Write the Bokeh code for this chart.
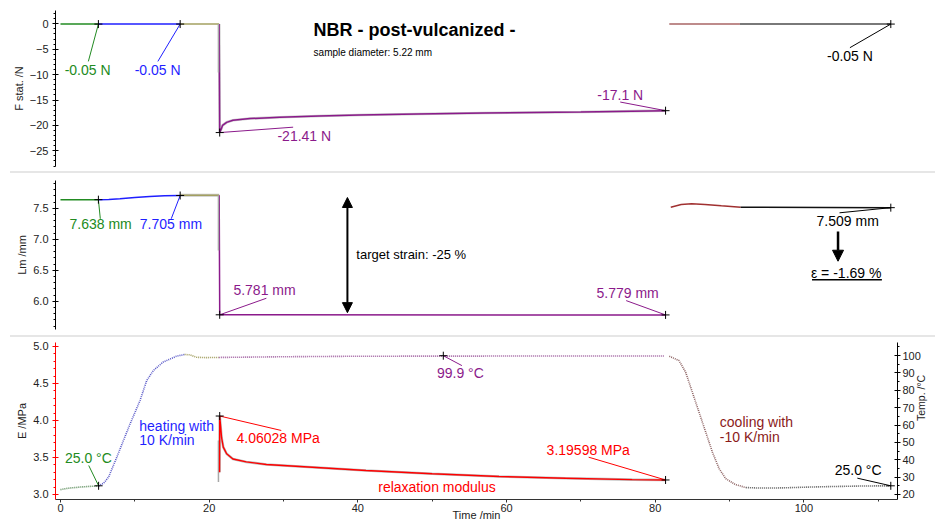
import math
from bokeh.plotting import figure
from bokeh.models import (Range1d, LinearAxis, Label, Arrow, NormalHead, Div,
                          SingleIntervalTicker, PrintfTickFormatter)
from bokeh.layouts import column
from bokeh.embed import file_html
from bokeh.resources import INLINE

FONT = "Liberation Sans"

# ------------------------------------------------------------------ data
# time axis: minutes (shared by all three panels)

# Panel 1 : static force  F stat. /N
f_green_t = [0.0, 5.1]
f_green_v = [-0.05, -0.05]
f_blue_t = [5.1, 16.1]
f_blue_v = [-0.05, -0.05]
f_olive_t = [16.1, 21.35]
f_olive_v = [-0.05, -0.05]
f_step_t = [21.25, 21.25]
f_step_v = [-0.05, -9.6]
f_relax_t = [21.35, 21.42, 21.6, 21.8, 22.35, 23.2, 25.5, 29.5, 34.8, 40.2, 48.0, 57.0, 70.0, 81.4]
f_relax_v = [-0.05, -21.41, -20.8, -20.0, -19.4, -19.0, -18.65, -18.4, -18.15, -17.95, -17.75, -17.55, -17.35, -17.1]
f_cool_t = [81.9, 91.4]
f_cool_v = [-0.05, -0.05]
f_end_t = [91.4, 111.7]
f_end_v = [-0.05, -0.05]
f_mark_t = [5.1, 16.1, 21.42, 81.4, 111.7]
f_mark_v = [-0.05, -0.05, -21.41, -17.1, -0.05]
f_mark_text = ["-0.05 N", "-0.05 N", "-21.41 N", "-17.1 N", "-0.05 N"]

# Panel 2 : sample length  Lm /mm
l_green_t = [0.0, 5.1]
l_green_v = [7.638, 7.638]
l_blue_t = [5.1, 6.5, 8.0, 10.0, 12.0, 14.0, 16.1]
l_blue_v = [7.638, 7.641, 7.652, 7.672, 7.690, 7.700, 7.705]
l_olive_t = [16.1, 21.35]
l_olive_v = [7.708, 7.710]
l_step_t = [21.25, 21.25]
l_step_v = [7.710, 6.82]
l_relax_t = [21.35, 21.42, 81.4]
l_relax_v = [7.710, 5.781, 5.779]
l_cool_t = [82.1, 83.5, 84.9, 86.7, 88.9, 91.5]
l_cool_v = [7.516, 7.560, 7.571, 7.560, 7.539, 7.516]
l_end_t = [91.5, 111.7]
l_end_v = [7.516, 7.509]
l_mark_t = [5.1, 16.1, 21.42, 81.4, 111.7]
l_mark_v = [7.638, 7.705, 5.781, 5.779, 7.509]
l_mark_text = ["7.638 mm", "7.705 mm", "5.781 mm", "5.779 mm", "7.509 mm"]

# Panel 3 : temperature  Temp. /°C (right axis)
t_green_t = [0.0, 1.0, 2.7, 4.0, 5.13]
t_green_v = [22.8, 23.6, 24.3, 24.7, 24.9]
t_blue_t = [5.13, 5.8, 6.47, 7.59, 8.47, 9.37, 10.7, 11.6, 12.5, 13.8, 15.6, 16.7]
t_blue_v = [24.9, 26.5, 30.0, 41.6, 51.1, 60.7, 74.1, 85.6, 91.4, 96.2, 99.6, 100.6]
t_olive_t = [16.7, 17.4, 18.3, 19.5, 21.3]
t_olive_v = [100.6, 100.4, 99.0, 98.8, 98.9]
t_relax_t = [21.3, 30.0, 40.0, 60.0, 81.2]
t_relax_v = [98.9, 99.3, 99.6, 99.7, 99.7]
t_cool_t = [81.9, 83.2, 84.1, 85.0, 85.9, 86.8, 87.7, 88.6, 89.5, 90.8, 92.2]
t_cool_v = [99.6, 97.1, 90.4, 78.9, 67.4, 55.9, 44.4, 34.9, 29.1, 25.7, 24.0]
t_end_t = [92.2, 94.0, 97.1, 100.0, 104.0, 108.0, 111.7]
t_end_v = [24.0, 23.7, 23.8, 24.2, 24.6, 24.9, 25.0]
t_mark_t = [5.13, 51.5, 111.7]
t_mark_v = [25.0, 99.9, 25.0]
t_mark_text = ["25.0 °C", "99.9 °C", "25.0 °C"]

# Panel 3 : modulus  E /MPa (left axis)
e_step_t = [21.25, 21.25]
e_step_v = [3.17, 3.73]
e_relax_t = [21.4, 21.42, 21.67, 21.9, 22.35, 23.2, 25.0, 27.7, 32.2, 41.1, 50.0, 59.0, 67.9, 76.9, 81.4]
e_relax_v = [3.30, 4.06028, 3.77, 3.64, 3.55, 3.48, 3.44, 3.405, 3.378, 3.324, 3.28, 3.243, 3.22, 3.20, 3.19598]
e_mark_t = [21.42, 81.4]
e_mark_v = [4.06028, 3.19598]
e_mark_text = ["4.06028 MPa", "3.19598 MPa"]

x_ticks_step = 20

# ------------------------------------------------------------------ style
C_GREEN = "#228b22"
C_BLUE = "#1f1fff"
C_OLIVE = "#a3a060"
C_PURPLE = "#8b1a8b"
C_DARK = "#4d4d4d"
C_RED = "#ff0000"
C_DRED = "#8b1a1a"
C_TXT = "#222222"

W = 935
x_range = Range1d(-0.67, 112.6)


def style_axis(ax, color="black"):
    ax.axis_line_color = color
    ax.major_tick_line_color = color
    ax.minor_tick_line_color = color
    ax.major_tick_in = 3
    ax.major_tick_out = 3
    ax.minor_tick_in = 0
    ax.minor_tick_out = 2
    ax.major_label_text_font = FONT
    ax.major_label_text_font_size = "11px"
    ax.major_label_text_color = C_TXT
    ax.axis_label_text_font = FONT
    ax.axis_label_text_font_size = "11px"
    ax.axis_label_text_font_style = "normal"
    ax.axis_label_text_color = C_TXT
    ax.major_label_standoff = 4
    ax.axis_label_standoff = 2


def make_fig(height, y_range, top, bottom, with_x=False):
    p = figure(width=W, height=height, x_range=x_range, y_range=y_range,
               output_backend="svg", toolbar_location=None,
               x_axis_location="below" if with_x else None,
               min_border_left=55, min_border_right=35,
               min_border_top=top, min_border_bottom=bottom)
    p.outline_line_color = None
    p.xgrid.visible = False
    p.ygrid.visible = False
    p.background_fill_color = "white"
    p.border_fill_color = "white"
    return p


def label(p, x, y, text, color, size="14px", align="center", yname="default", style="normal"):
    p.add_layout(Label(x=x, y=y, text=text, text_color=color, text_font=FONT,
                       text_font_size=size, text_align=align, text_baseline="middle",
                       text_font_style=style, y_range_name=yname))


def leaders(p, x0, y0, x1, y1, colors, yname="default"):
    p.segment(x0=x0, y0=y0, x1=x1, y1=y1, line_color=colors, line_width=1,
              y_range_name=yname)


# ------------------------------------------------------------------ panel 1
p1 = make_fig(171, Range1d(-28.09, 2.62), 10, 5)
p1.yaxis.axis_label = "F stat. /N"
p1.yaxis.ticker = SingleIntervalTicker(interval=5, num_minor_ticks=5)
style_axis(p1.yaxis[0])

p1.line(f_relax_t, f_relax_v, line_color="#c8c8c8", line_width=2.6)
for t, v, c in [(f_green_t, f_green_v, C_GREEN), (f_blue_t, f_blue_v, C_BLUE),
                (f_olive_t, f_olive_v, C_OLIVE), (f_relax_t, f_relax_v, C_PURPLE),
                (f_cool_t, f_cool_v, "#a86464"), (f_end_t, f_end_v, C_DARK)]:
    p1.line(t, v, line_color=c, line_width=1.5)
p1.line(f_step_t, f_step_v, line_color="#a8a8a8", line_width=1.5)

f_note_x = [3.65, 13.07, 32.8, 75.3, 106.2]
f_note_y = [-9.0, -9.0, -22.0, -14.1, -6.24]
f_lead_x = [3.75, 13.1, 31.3, 75.3, 106.2]
f_lead_y = [-7.4, -7.4, -20.35, -15.4, -4.7]
f_note_c = [C_GREEN, C_BLUE, C_PURPLE, C_PURPLE, "black"]
leaders(p1, f_lead_x, f_lead_y, f_mark_t, f_mark_v, f_note_c)
for x, y, s, c in zip(f_note_x, f_note_y, f_mark_text, f_note_c):
    label(p1, x, y, s, c)
p1.scatter(f_mark_t, f_mark_v, marker="cross", size=8, line_color="black", line_width=1)

label(p1, 34.05, -1.26, "NBR - post-vulcanized -", "black", size="18px", align="left", style="bold")
label(p1, 34.05, -5.55, "sample diameter: 5.22 mm", "black", size="10px", align="left")

# ------------------------------------------------------------------ panel 2
p2 = make_fig(162, Range1d(5.544, 7.947), 7, 6)
p2.yaxis.axis_label = "Lm /mm"
p2.yaxis.ticker = SingleIntervalTicker(interval=0.5, num_minor_ticks=5)
p2.yaxis.formatter = PrintfTickFormatter(format="%.1f")
style_axis(p2.yaxis[0])

p2.line(l_olive_t, l_olive_v, line_color="#c8c8c8", line_width=3)
for t, v, c in [(l_green_t, l_green_v, C_GREEN), (l_blue_t, l_blue_v, C_BLUE),
                (l_olive_t, l_olive_v, C_OLIVE), (l_relax_t, l_relax_v, C_PURPLE),
                (l_cool_t, l_cool_v, "#a03030"), (l_end_t, l_end_v, "#111111")]:
    p2.line(t, v, line_color=c, line_width=1.5)
p2.line(l_step_t, l_step_v, line_color="#a8a8a8", line_width=1.5)

l_note_x = [5.4, 14.86, 27.45, 76.3, 105.9]
l_note_y = [7.248, 7.248, 6.173, 6.14, 7.30]
l_lead_x = [5.36, 14.9, 27.7, 76.1, 104.8]
l_lead_y = [7.33, 7.33, 6.048, 6.01, 7.426]
l_note_c = [C_GREEN, C_BLUE, C_PURPLE, C_PURPLE, "black"]
leaders(p2, l_lead_x, l_lead_y, l_mark_t, l_mark_v, l_note_c)
for x, y, s, c in zip(l_note_x, l_note_y, l_mark_text, l_note_c):
    label(p2, x, y, s, c)
p2.scatter(l_mark_t, l_mark_v, marker="cross", size=8, line_color="black", line_width=1)

p2.add_layout(Arrow(start=NormalHead(size=10, fill_color="black", line_color="black"),
                    end=NormalHead(size=10, fill_color="black", line_color="black"),
                    x_start=38.6, y_start=7.673, x_end=38.6, y_end=5.816,
                    line_width=2, line_color="black"))
label(p2, 39.8, 6.753, "target strain: -25 %", "black", size="13px", align="left")

p2.add_layout(Arrow(end=NormalHead(size=11, fill_color="black", line_color="black"),
                    x_start=104.6, y_start=7.124, x_end=104.6, y_end=6.645,
                    line_width=2.5, line_color="black"))
label(p2, 105.7, 6.455, "ε = -1.69 %", "black")
p2.segment(x0=[101.1], y0=[6.345], x1=[110.5], y1=[6.345], line_color="black", line_width=1.5)

# ------------------------------------------------------------------ panel 3
p3 = make_fig(186, Range1d(2.932, 5.054), 5, 24, with_x=True)
p3.extra_y_ranges = {"temp": Range1d(17.12, 107.5)}
p3.yaxis.axis_label = "E /MPa"
p3.yaxis.ticker = SingleIntervalTicker(interval=0.5, num_minor_ticks=5)
p3.yaxis.formatter = PrintfTickFormatter(format="%.1f")
style_axis(p3.yaxis[0], C_RED)
p3.xaxis.axis_label = "Time /min"
p3.xaxis.ticker = SingleIntervalTicker(interval=x_ticks_step, num_minor_ticks=2)
style_axis(p3.xaxis[0], "#333333")
p3.xaxis.major_tick_in = 0
p3.xaxis.major_label_standoff = 1
p3.xaxis.axis_label_standoff = -6

tax = LinearAxis(y_range_name="temp", axis_label="Temp. /°C",
                 ticker=SingleIntervalTicker(interval=10, num_minor_ticks=2))
style_axis(tax)
tax.major_label_standoff = 2
tax.axis_label_standoff = -3
tax.axis_label_text_font_size = "10.5px"
tax.axis_label_orientation = math.pi / 2
p3.add_layout(tax, "right")

for t, v, c in [(t_green_t, t_green_v, "#5e8e5e"), (t_blue_t, t_blue_v, "#5a5ac8"),
                (t_olive_t, t_olive_v, "#a09c5c"), (t_relax_t, t_relax_v, "#a060a0"),
                (t_cool_t, t_cool_v, "#8e6464"), (t_end_t, t_end_v, "#5e5e5e")]:
    p3.line(t, v, line_color=c, line_width=1.6, line_dash="1 1", y_range_name="temp")

p3.line(e_relax_t, e_relax_v, line_color="#bdbdbd", line_width=2.6)
p3.line(e_step_t, e_step_v, line_color="#a8a8a8", line_width=1.5)
p3.line(e_relax_t, e_relax_v, line_color=C_RED, line_width=1.4)

e_note_x = [23.68, 71.0]
e_note_y = [3.761, 3.604]
e_lead_x = [29.7, 71.05]
e_lead_y = [3.865, 3.504]
leaders(p3, e_lead_x, e_lead_y, e_mark_t, e_mark_v, [C_RED, C_RED])
label(p3, e_note_x[0], e_note_y[0], e_mark_text[0], C_RED, align="left")
label(p3, e_note_x[1], e_note_y[1], e_mark_text[1], C_RED)
p3.scatter(e_mark_t, e_mark_v, marker="cross", size=8, line_color="black", line_width=1)

t_note_x = [3.75, 53.8, 107.3]
t_note_y = [40.9, 89.8, 34.2]
t_lead_x = [3.8, 54.0, 107.2]
t_lead_y = [36.7, 94.2, 29.4]
t_note_c = [C_GREEN, C_PURPLE, "black"]
leaders(p3, t_lead_x, t_lead_y, t_mark_t, t_mark_v, t_note_c, yname="temp")
for x, y, s, c in zip(t_note_x, t_note_y, t_mark_text, t_note_c):
    label(p3, x, y, s, c, yname="temp")
p3.scatter(t_mark_t, t_mark_v, marker="cross", size=8, line_color="black", line_width=1,
           y_range_name="temp")

label(p3, 10.6, 59.7, "heating with", C_BLUE, align="left", yname="temp")
label(p3, 10.6, 51.1, "10 K/min", C_BLUE, align="left", yname="temp")
label(p3, 88.7, 61.6, "cooling with", C_DRED, align="left", yname="temp")
label(p3, 88.7, 53.0, "-10 K/min", C_DRED, align="left", yname="temp")
label(p3, 50.65, 3.099, "relaxation modulus", C_RED)


def sep():
    return Div(text="", width=925, height=2, margin=(0, 0, 0, 10),
               styles={"background-color": "#e6e6e6"})


layout = column(p1, sep(), p2, sep(), p3, spacing=0)
open("out.html", "w").write(file_html(layout, INLINE))
